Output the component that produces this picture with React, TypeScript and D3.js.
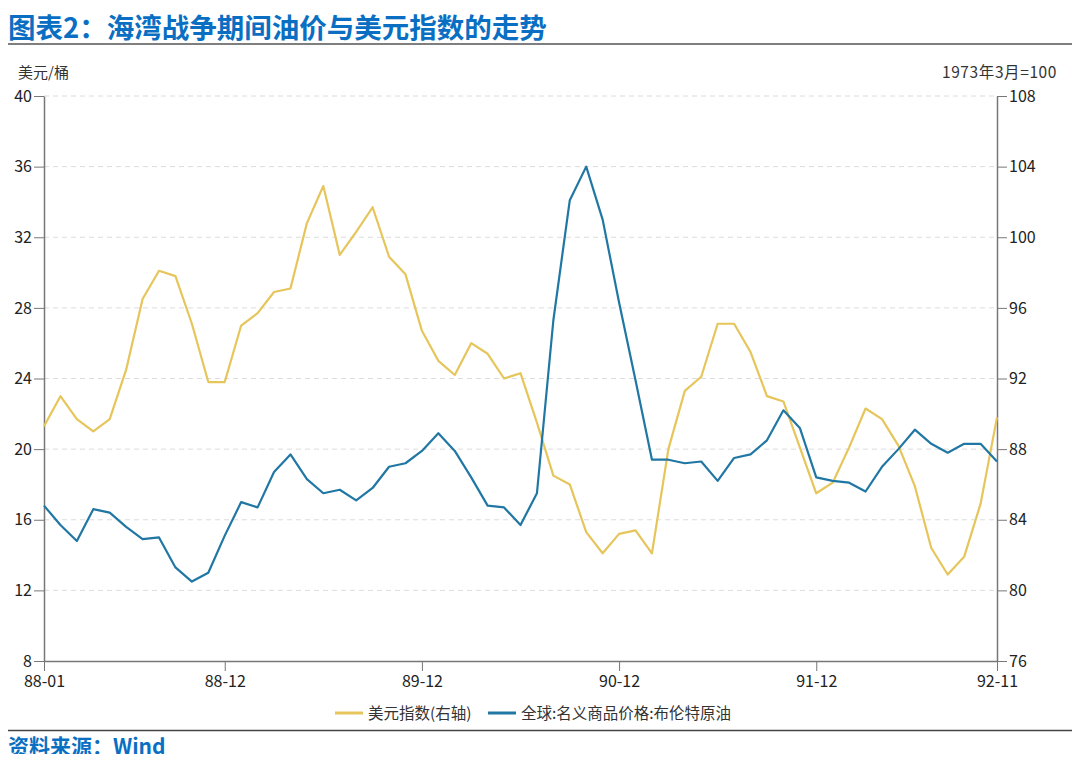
import React, { useEffect, useRef } from 'react';
import * as d3 from 'd3';

// monthly, 88-01 .. 92-11
const months: string[] = d3.range(59).map((i) => {
  const y = 88 + Math.floor(i / 12);
  const m = (i % 12) + 1;
  return `${y}-${String(m).padStart(2, '0')}`;
});

const tickLabels: string[] = ['88-01', '88-12', '89-12', '90-12', '91-12', '92-11'];

// 美元指数 (right axis, 1973-03=100)
const dollarIndex: number[] = [
  89.3, 91.0, 89.7, 89.0, 89.7, 92.5, 96.5, 98.1, 97.8, 95.1, 91.8, 91.8,
  95.0, 95.7, 96.9, 97.1, 100.8, 102.9, 99.0, 100.3, 101.7, 98.9, 97.9, 94.7,
  93.0, 92.2, 94.0, 93.4, 92.0, 92.3, 89.5, 86.5, 86.0, 83.3, 82.1, 83.2,
  83.4, 82.1, 88.0, 91.3, 92.1, 95.1, 95.1, 93.5, 91.0, 90.7, 88.1, 85.5,
  86.1, 88.1, 90.3, 89.7, 88.2, 85.9, 82.4, 80.9, 81.9, 84.9, 89.8,
];

// 布伦特原油 (left axis, 美元/桶)
const brent: number[] = [
  16.8, 15.7, 14.8, 16.6, 16.4, 15.6, 14.9, 15.0, 13.3, 12.5, 13.0, 15.1,
  17.0, 16.7, 18.7, 19.7, 18.3, 17.5, 17.7, 17.1, 17.8, 19.0, 19.2, 19.9,
  20.9, 19.9, 18.4, 16.8, 16.7, 15.7, 17.5, 27.3, 34.1, 36.0, 33.0, 28.3,
  23.9, 19.4, 19.4, 19.2, 19.3, 18.2, 19.5, 19.7, 20.5, 22.2, 21.2, 18.4,
  18.2, 18.1, 17.6, 19.0, 20.0, 21.1, 20.3, 19.8, 20.3, 20.3, 19.3,
];

const leftTicks: number[] = [8, 12, 16, 20, 24, 28, 32, 36, 40];
const rightTicks: number[] = [76, 80, 84, 88, 92, 96, 100, 104, 108];

const W = 1080;
const H = 762;
const FONT = '"Noto Sans CJK SC", "Noto Sans", sans-serif';
const YELLOW = '#e6c55b';
const BLUE = '#2177a3';
const TITLE_BLUE = '#0a6fc2';

const Chart: React.FC = () => {
  const svgRef = useRef<SVGSVGElement>(null);

  useEffect(() => {
    if (!svgRef.current) return;
    const svg = d3.select(svgRef.current);
    svg.selectAll('*').remove();

    const left = 44;
    const right = 997;
    const top = 96;
    const bottom = 661;

    const x = d3.scalePoint<string>().domain(months).range([left, right]);
    const yL = d3.scaleLinear().domain([8, 40]).range([bottom, top]);
    const yR = d3.scaleLinear().domain([76, 108]).range([bottom, top]);

    // title
    svg
      .append('text')
      .attr('x', 8)
      .attr('y', 38)
      .attr('font-family', FONT)
      .attr('font-weight', 700)
      .attr('font-size', 27.5)
      .attr('fill', TITLE_BLUE)
      .text('图表2：海湾战争期间油价与美元指数的走势');
    svg
      .append('line')
      .attr('x1', 0)
      .attr('x2', W)
      .attr('y1', 44)
      .attr('y2', 44)
      .attr('stroke', '#555')
      .attr('stroke-width', 1.5);

    // unit labels
    svg
      .append('text')
      .attr('x', 18)
      .attr('y', 78)
      .attr('font-family', FONT)
      .attr('font-size', 15)
      .attr('fill', '#333')
      .text('美元/桶');
    svg
      .append('text')
      .attr('x', 1057)
      .attr('y', 78)
      .attr('text-anchor', 'end')
      .attr('font-family', FONT)
      .attr('font-size', 15.5)
      .attr('letter-spacing', 0.6)
      .attr('fill', '#333')
      .text('1973年3月=100');

    // grid
    svg
      .append('g')
      .selectAll('line')
      .data(leftTicks.filter((t) => t !== 8))
      .enter()
      .append('line')
      .attr('x1', left)
      .attr('x2', right)
      .attr('y1', (d) => yL(d))
      .attr('y2', (d) => yL(d))
      .attr('stroke', '#dcdcdc')
      .attr('stroke-dasharray', '5,4');

    const styleAxis = (g: d3.Selection<SVGGElement, unknown, null, undefined>) => {
      g.selectAll('path, line').attr('stroke', '#777');
      g.selectAll('text')
        .attr('font-family', FONT)
        .attr('font-size', 16)
        .attr('fill', '#222');
    };

    svg
      .append('g')
      .attr('transform', `translate(${left},0)`)
      .call(d3.axisLeft(yL).tickValues(leftTicks).tickSize(10).tickSizeOuter(0).tickPadding(2))
      .call(styleAxis)
      .call((g) => g.select('.domain').attr('stroke-width', 1.5));

    svg
      .append('g')
      .attr('transform', `translate(${right},0)`)
      .call(d3.axisRight(yR).tickValues(rightTicks).tickSize(10).tickSizeOuter(0).tickPadding(2))
      .call(styleAxis)
      .call((g) => g.select('.domain').attr('stroke-width', 1.5));

    svg
      .append('g')
      .attr('transform', `translate(0,${bottom})`)
      .call(d3.axisBottom(x).tickValues(tickLabels).tickSize(10).tickSizeOuter(0).tickPadding(5))
      .call(styleAxis)
      .call((g) => g.select('.domain').attr('stroke-width', 1.5));

    const lineL = d3
      .line<number>()
      .x((_, i) => x(months[i]) as number)
      .y((d) => yL(d));
    const lineR = d3
      .line<number>()
      .x((_, i) => x(months[i]) as number)
      .y((d) => yR(d));

    svg
      .append('path')
      .datum(dollarIndex)
      .attr('d', lineR)
      .attr('fill', 'none')
      .attr('stroke', YELLOW)
      .attr('stroke-width', 2.2)
      .attr('stroke-linejoin', 'round');

    svg
      .append('path')
      .datum(brent)
      .attr('d', lineL)
      .attr('fill', 'none')
      .attr('stroke', BLUE)
      .attr('stroke-width', 2.2)
      .attr('stroke-linejoin', 'round');

    // legend
    const legend = [
      { name: '美元指数(右轴)', color: YELLOW, x: 335 },
      { name: '全球:名义商品价格:布伦特原油', color: BLUE, x: 488 },
    ];
    const lg = svg.append('g');
    legend.forEach((l) => {
      lg.append('line')
        .attr('x1', l.x)
        .attr('x2', l.x + 28)
        .attr('y1', 713)
        .attr('y2', 713)
        .attr('stroke', l.color)
        .attr('stroke-width', 3);
      lg.append('text')
        .attr('x', l.x + 33)
        .attr('y', 718.5)
        .attr('font-family', FONT)
        .attr('font-size', 15.5)
        .attr('fill', '#333')
        .text(l.name);
    });

    svg
      .append('line')
      .attr('x1', 0)
      .attr('x2', W)
      .attr('y1', 730.5)
      .attr('y2', 730.5)
      .attr('stroke', '#444')
      .attr('stroke-width', 1.5);

    svg
      .append('text')
      .attr('x', 8)
      .attr('y', 754)
      .attr('font-family', FONT)
      .attr('font-weight', 700)
      .attr('font-size', 21)
      .attr('fill', TITLE_BLUE)
      .text('资料来源：Wind');
  }, []);

  return <svg ref={svgRef} width={W} height={H} style={{ display: 'block', background: '#fff' }} />;
};

export default function App() {
  return (
    <div style={{ margin: -8 }}>
      <Chart />
    </div>
  );
}
